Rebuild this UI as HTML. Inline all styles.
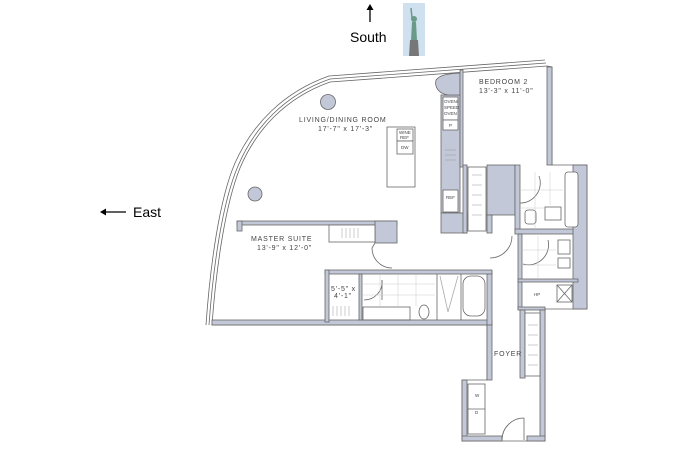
<!DOCTYPE html>
<html><head><meta charset="utf-8"><style>
html,body{margin:0;padding:0;background:#fff;}
svg{display:block;}
text{font-family:"Liberation Sans",sans-serif;}
.t{font-size:7px;fill:#444;letter-spacing:0.8px;}
.s{font-size:4.5px;fill:#444;}
</style></head><body>
<svg width="700" height="466" viewBox="0 0 700 466" xmlns="http://www.w3.org/2000/svg">
<!-- compass -->
<line x1="370" y1="22" x2="370" y2="8" stroke="#000" stroke-width="1.3"/>
<polygon points="366.5,10 370,4 373.5,10" fill="#000"/>
<text x="350" y="42" font-size="14" fill="#000">South</text>
<rect x="403" y="3" width="22" height="53" fill="#cfe0ee"/>
<polygon points="409,56 419,56 418,40 410,40" fill="#777"/>
<polygon points="411,40 417,40 416,22 412,22" fill="#6a9b8a"/>
<circle cx="414" cy="19" r="3" fill="#6a9b8a"/>
<line x1="412" y1="18" x2="411" y2="8" stroke="#6a9b8a" stroke-width="1.5"/>
<line x1="104" y1="212" x2="126" y2="212" stroke="#000" stroke-width="1.3"/>
<polygon points="106,208.5 100,212 106,215.5" fill="#000"/>
<text x="133" y="217" font-size="14" fill="#000">East</text>

<g stroke="#666" stroke-width="0.8" fill="none">
<!-- outer wall -->
<path d="M212,325 C216,270 225,205 240,168 C256,130 285,98 330,82 L547,66 L552,67 L552,165 L587,165 L587,309 L545,309 L545,441 L462,441 L462,380 L487,380 L487,325 Z" fill="#fff"/>
<!-- curtain wall lines -->
<path d="M206,325 C210,268 219,200 235,163 C252,125 283,92 329,76 L545,60" />
<path d="M209,325 C213,269 222,203 238,166 C254,128 284,95 330,79 L546,63" />
<g fill="#c3c8d8">
<!-- bottom master wall -->
<rect x="212" y="320" width="280" height="5"/>
<rect x="487" y="272" width="5" height="53"/>
<rect x="487" y="325" width="5" height="55"/>
<!-- master suite top wall -->
<rect x="237" y="221" width="160" height="4"/>
<rect x="237" y="221" width="5" height="10"/>
<rect x="375" y="221" width="22" height="22"/>
<!-- master bath top -->
<rect x="325" y="270" width="167" height="4"/>
<rect x="325" y="270" width="4" height="52"/>
<rect x="359" y="274" width="3" height="46"/>
<!-- kitchen -->
<rect x="441" y="95" width="19" height="118"/>
<rect x="441" y="213" width="26" height="20"/>
<path d="M436,80 C440,75 446,74 460,73 L460,95 L448,95 C440,94 434,88 436,80 Z"/>
<rect x="460" y="70" width="3" height="97"/>
<rect x="463" y="165" width="4" height="68"/>
<rect x="487" y="165" width="28" height="50"/>
<rect x="487" y="215" width="5" height="18"/>
<rect x="515" y="165" width="5" height="68"/>
<rect x="515" y="229" width="67" height="5"/>
<rect x="573" y="165" width="14" height="144"/>
<rect x="518" y="234" width="4" height="75"/>
<rect x="518" y="279" width="60" height="3"/>
<rect x="518" y="307" width="27" height="3"/>
<!-- foyer closet -->
<rect x="520" y="310" width="5" height="68"/>
<rect x="540" y="310" width="5" height="131"/>
<!-- W/D -->
<rect x="462" y="380" width="5" height="61"/>
<rect x="462" y="436" width="40" height="5"/>
<rect x="527" y="436" width="18" height="5"/>
<rect x="547" y="67" width="5" height="98"/>
</g>
<!-- interiors -->
<g fill="#fff">
<rect x="443" y="97" width="15" height="23"/>
<rect x="443" y="120" width="15" height="10"/>
<rect x="443" y="190" width="15" height="22"/>
<rect x="387" y="127" width="28" height="60"/>
<rect x="397" y="129" width="16" height="12"/>
<rect x="397" y="141" width="16" height="13"/>
<rect x="468" y="167" width="18" height="64"/>
<rect x="329" y="225" width="46" height="17"/>
<rect x="565" y="172" width="13" height="55" rx="3"/>
<rect x="468" y="384" width="17" height="50"/>
<line x1="468" y1="409" x2="485" y2="409"/>
<rect x="525" y="313" width="15" height="63"/>
<rect x="463" y="276" width="22" height="40" rx="8"/>
<rect x="557" y="285" width="15" height="17"/>
</g>
<line x1="557" y1="285" x2="572" y2="302"/><line x1="572" y1="285" x2="557" y2="302"/>
<line x1="437" y1="274" x2="437" y2="320"/><line x1="461" y1="274" x2="461" y2="320"/>
<path d="M440,276 L448,312 L458,276" stroke="#aaa"/>
<ellipse cx="424" cy="312" rx="5" ry="7"/>
<rect x="363" y="307" width="47" height="13"/>
<rect x="558" y="240" width="12" height="14"/>
<rect x="558" y="258" width="12" height="10"/>
<rect x="545" y="207" width="16" height="13"/>
<rect x="525" y="210" width="11" height="14" rx="3"/>
<!-- doors -->
<path d="M372,248 A20,20 0 0 0 392,268"/><line x1="372" y1="248" x2="375" y2="243"/>
<path d="M490,258 A22,22 0 0 0 512,236"/>
<path d="M520,203 A20,20 0 0 0 539,176"/>
<path d="M523,264 A20,20 0 0 0 548,240"/>
<path d="M364,300 A18,18 0 0 0 382,280"/><line x1="382" y1="280" x2="382" y2="300"/>
<path d="M502,440 A22,22 0 0 1 524,418"/><line x1="524" y1="418" x2="524" y2="440"/>
</g>
<!-- tile grids -->
<g stroke="#ccc" stroke-width="0.5">
<line x1="363" y1="284" x2="435" y2="284"/><line x1="363" y1="295" x2="435" y2="295"/>
<line x1="380" y1="275" x2="380" y2="306"/><line x1="398" y1="275" x2="398" y2="306"/><line x1="416" y1="275" x2="416" y2="306"/>
<line x1="521" y1="190" x2="563" y2="190"/><line x1="521" y1="208" x2="545" y2="208"/>
<line x1="535" y1="172" x2="535" y2="228"/><line x1="550" y1="172" x2="550" y2="205"/>
<line x1="523" y1="250" x2="556" y2="250"/><line x1="523" y1="265" x2="556" y2="265"/>
<line x1="538" y1="236" x2="538" y2="278"/>
</g>
<g stroke="#999" stroke-width="0.5">
<line x1="342" y1="228" x2="342" y2="238"/><line x1="346" y1="228" x2="346" y2="238"/><line x1="350" y1="228" x2="350" y2="238"/><line x1="354" y1="228" x2="354" y2="238"/><line x1="358" y1="228" x2="358" y2="238"/>
<line x1="333" y1="306" x2="333" y2="316"/><line x1="337" y1="306" x2="337" y2="316"/><line x1="341" y1="306" x2="341" y2="316"/><line x1="345" y1="306" x2="345" y2="316"/><line x1="349" y1="306" x2="349" y2="316"/>
<line x1="472" y1="175" x2="482" y2="175"/><line x1="472" y1="185" x2="482" y2="185"/><line x1="472" y1="195" x2="482" y2="195"/><line x1="472" y1="205" x2="482" y2="205"/><line x1="472" y1="215" x2="482" y2="215"/>
<line x1="528" y1="325" x2="538" y2="325"/><line x1="528" y1="335" x2="538" y2="335"/><line x1="528" y1="345" x2="538" y2="345"/><line x1="528" y1="355" x2="538" y2="355"/><line x1="528" y1="365" x2="538" y2="365"/>
<line x1="445" y1="150" x2="456" y2="150"/><line x1="445" y1="155" x2="456" y2="155"/><line x1="445" y1="160" x2="456" y2="160"/>
</g>
<circle cx="328" cy="102" r="7.5" fill="#c3c8d8" stroke="#666" stroke-width="0.8"/>
<circle cx="255" cy="194" r="7" fill="#c3c8d8" stroke="#666" stroke-width="0.8"/>
<!-- labels -->
<text class="t" x="299" y="122">LIVING/DINING ROOM</text>
<text class="t" x="318" y="131">17'-7" x 17'-3"</text>
<text class="t" x="479" y="84">BEDROOM 2</text>
<text class="t" x="479" y="93">13'-3" x 11'-0"</text>
<text class="t" x="251" y="241">MASTER SUITE</text>
<text class="t" x="257" y="250">13'-9" x 12'-0"</text>
<text class="t" x="331" y="291">5'-5" x</text>
<text class="t" x="334" y="298">4'-1"</text>
<text class="t" x="494" y="356">FOYER</text>
<text class="s" x="444" y="103">OVEN/</text>
<text class="s" x="444" y="109">SPEED</text>
<text class="s" x="444" y="115">OVEN</text>
<text class="s" x="449" y="127">P</text>
<text class="s" x="446" y="199">REF</text>
<text class="s" x="399" y="134">WINE</text>
<text class="s" x="400" y="139">REF</text>
<text class="s" x="401" y="149">DW</text>
<text class="s" x="534" y="296">HP</text>
<text class="s" x="475" y="397">W</text>
<text class="s" x="475" y="414">D</text>
</svg>
</body></html>
